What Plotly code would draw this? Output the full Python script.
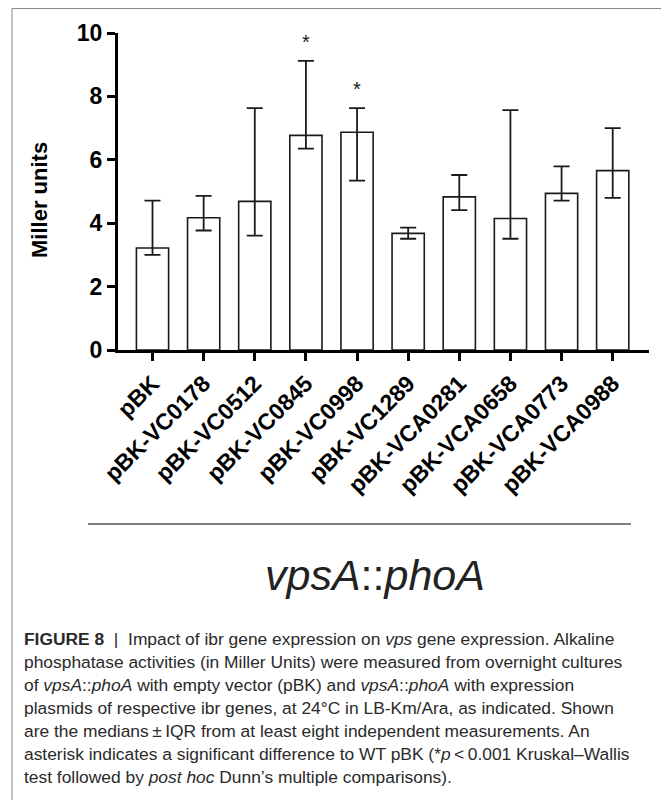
import plotly.graph_objects as go

# ---------------- data ----------------
categories = ["pBK", "pBK-VC0178", "pBK-VC0512", "pBK-VC0845", "pBK-VC0998",
              "pBK-VC1289", "pBK-VCA0281", "pBK-VCA0658", "pBK-VCA0773", "pBK-VCA0988"]
medians = [3.22, 4.17, 4.69, 6.77, 6.87, 3.68, 4.83, 4.15, 4.94, 5.66]
q_upper = [4.71, 4.86, 7.63, 9.12, 7.63, 3.86, 5.52, 7.57, 5.79, 7.00]
q_lower = [3.00, 3.77, 3.61, 6.35, 5.34, 3.51, 4.41, 3.51, 4.71, 4.80]
significant = [False, False, False, True, True, False, False, False, False, False]
y_ticks = [0, 2, 4, 6, 8, 10]
y_title = "Miller units"
x_group_label = "<i>vpsA</i>::<i>phoA</i>"
caption_lines = [
    "<b>FIGURE 8</b>  |  Impact of ibr gene expression on <i>vps</i> gene expression. Alkaline",
    "phosphatase activities (in Miller Units) were measured from overnight cultures",
    "of <i>vpsA</i>::<i>phoA</i> with empty vector (pBK) and <i>vpsA</i>::<i>phoA</i> with expression",
    "plasmids of respective ibr genes, at 24°C in LB-Km/Ara, as indicated. Shown",
    "are the medians\u2009±\u2009IQR from at least eight independent measurements. An",
    "asterisk indicates a significant difference to WT pBK (*<i>p</i>\u2009<\u20090.001 Kruskal–Wallis",
    "test followed by <i>post hoc</i> Dunn’s multiple comparisons).",
]

# ---------------- layout geometry ----------------
# The page body has an 8px default margin, so the figure is shrunk by it and
# all page-pixel positions below are converted to figure coordinates.
OFF = 8
W, H = 669 - OFF, 800 - OFF
PLOT_LEFT, PLOT_RIGHT, PLOT_TOP, PLOT_BOTTOM = 118, 649, 33, 350   # page px
L = PLOT_LEFT - OFF
R = W - (PLOT_RIGHT - OFF)
T = PLOT_TOP - OFF
B = H - (PLOT_BOTTOM - OFF)
PW, PH = W - L - R, H - T - B


def px_x(px):
    return (px - OFF - L) / PW


def px_y(py):
    return (H - B - (py - OFF)) / PH


err_plus = [u - m for u, m in zip(q_upper, medians)]
err_minus = [m - l for m, l in zip(medians, q_lower)]
x_idx = list(range(len(categories)))

INK = "#1a1a1a"
FONT = "Liberation Sans, Arial, sans-serif"

fig = go.Figure()
fig.add_trace(go.Bar(
    x=x_idx, y=medians,
    marker=dict(color="white", line=dict(color=INK, width=1.6)),
    error_y=dict(type="data", symmetric=False, array=err_plus, arrayminus=err_minus,
                 color=INK, thickness=1.8, width=8),
    width=0.63,
    showlegend=False,
    hoverinfo="skip",
))

annotations = []
for i, sig in enumerate(significant):
    if sig:
        annotations.append(dict(
            x=i, y=q_upper[i], xref="x", yref="y", text="*", showarrow=False,
            xanchor="center", yanchor="bottom", yshift=6,
            font=dict(family=FONT, size=20, color=INK)))

# y-axis title
annotations.append(dict(
    x=px_x(39), y=px_y(200), xref="paper", yref="paper", text=y_title, textangle=-90,
    xanchor="center", yanchor="middle",
    showarrow=False, font=dict(family=FONT, size=22, color="black", weight="bold")))

# group label
annotations.append(dict(
    x=px_x(375), y=px_y(575), xref="paper", yref="paper", text=x_group_label,
    xanchor="center", yanchor="middle",
    showarrow=False, font=dict(family=FONT, size=43, color="#222")))

# caption
for k, line in enumerate(caption_lines):
    annotations.append(dict(
        x=px_x(22), y=px_y(639 + 23.0 * k), xref="paper", yref="paper", text=line,
        xanchor="left", yanchor="middle", showarrow=False,
        font=dict(family=FONT, size=17.4, color="#2a2a2a")))

shapes = [
    # outer frame
    dict(type="rect", xref="paper", yref="paper", x0=px_x(12), x1=px_x(664),
         y0=px_y(830), y1=px_y(8.5), line=dict(color="#8a8a8a", width=1), layer="below"),
    # separator line
    dict(type="line", xref="paper", yref="paper", x0=px_x(88), x1=px_x(631),
         y0=px_y(524), y1=px_y(524), line=dict(color="#555", width=1.6)),
]

fig.update_layout(
    width=W, height=H,
    margin=dict(l=L, r=R, t=T, b=B, autoexpand=False),
    paper_bgcolor="white", plot_bgcolor="white",
    bargap=0.37,
    annotations=annotations,
    shapes=shapes,
    xaxis=dict(
        range=[-0.675, 9.71], tickmode="array", tickvals=x_idx, ticktext=categories,
        tickangle=-45, ticks="outside", ticklen=8, tickwidth=3, tickcolor="black",
        showline=True, linewidth=3, linecolor="black", showgrid=False, zeroline=False,
        tickfont=dict(family=FONT, size=23, color="black", weight="bold"),
    ),
    yaxis=dict(
        range=[0, 10], tickmode="array", tickvals=y_ticks,
        ticks="outside", ticklen=8, tickwidth=3, tickcolor="black",
        showline=True, linewidth=3, linecolor="black", showgrid=False, zeroline=False,
        tickfont=dict(family=FONT, size=23, color="black", weight="bold"),
    ),
)

fig.write_html("out.html")
